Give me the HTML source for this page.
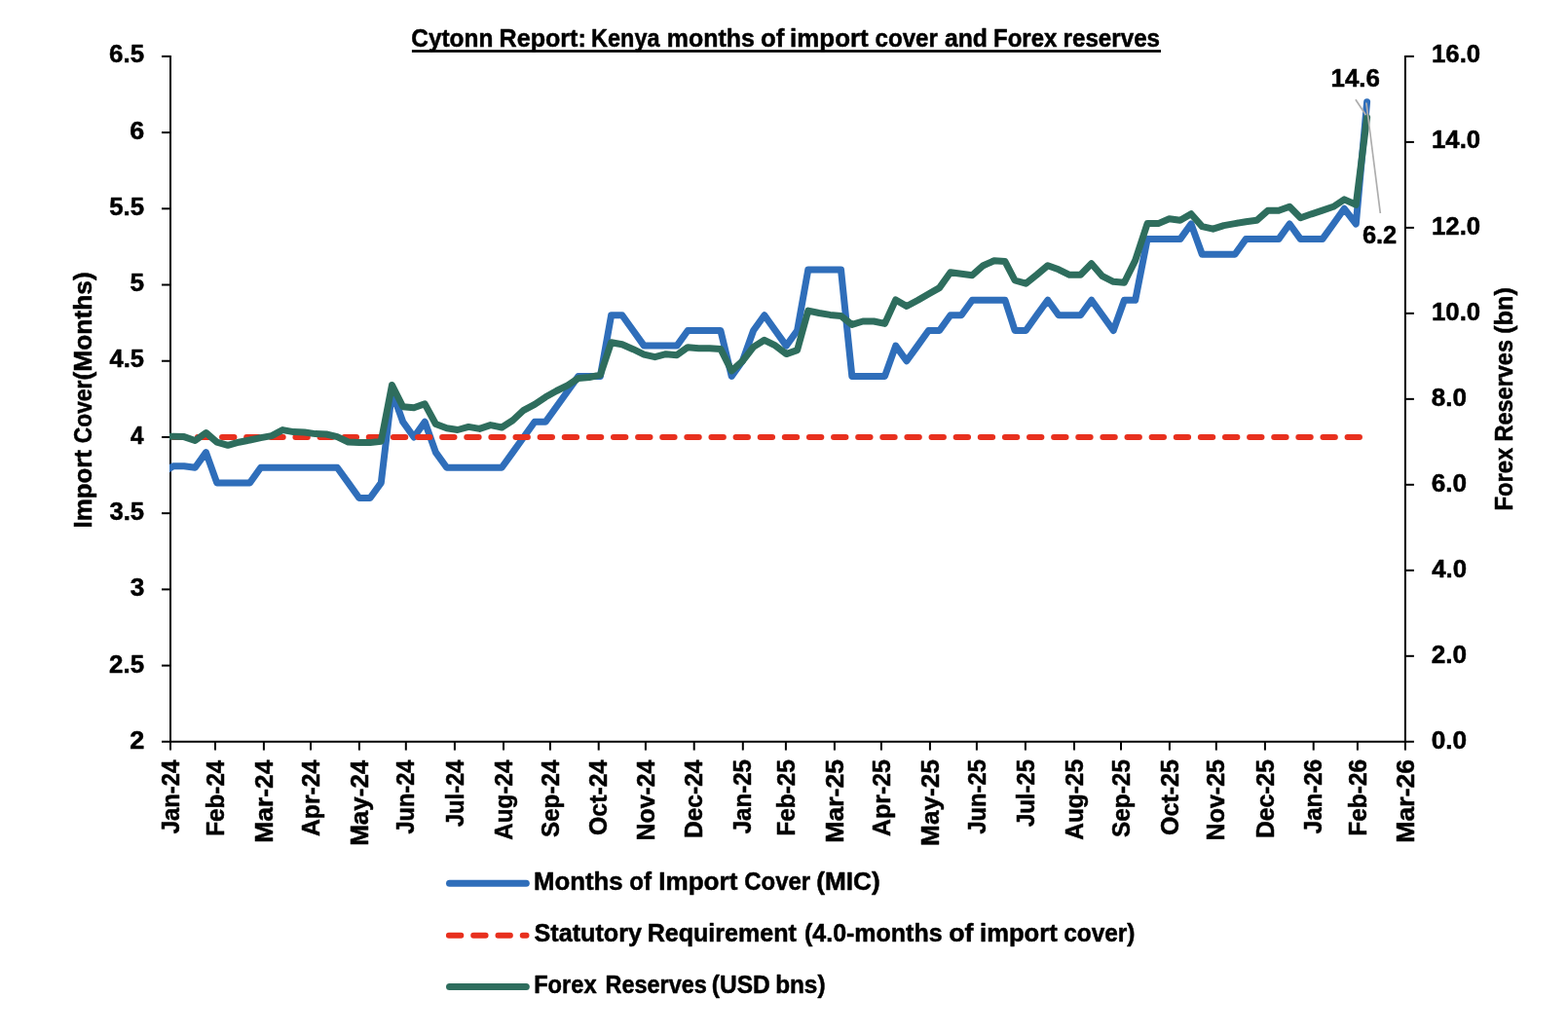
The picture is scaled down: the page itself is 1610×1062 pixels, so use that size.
<!DOCTYPE html>
<html><head><meta charset="utf-8"><title>Cytonn Report: Kenya months of import cover and Forex reserves</title>
<style>
html,body{margin:0;padding:0;background:#fff;}
svg{display:block;}
text{font-family:"Liberation Sans",sans-serif;font-weight:bold;font-size:25px;fill:#000;stroke:#000;stroke-width:0.5px;stroke-linejoin:round;}
</style></head><body>
<svg width="1610" height="1062" viewBox="0 0 1610 1062">
<rect width="1610" height="1062" fill="#fff"/>
<text y="47.80"><tspan x="422.32" textLength="84.03" lengthAdjust="spacingAndGlyphs">Cytonn</tspan> <tspan x="512.59" textLength="89.19" lengthAdjust="spacingAndGlyphs">Report:</tspan> <tspan x="607.11" textLength="70.34" lengthAdjust="spacingAndGlyphs">Kenya</tspan> <tspan x="684.81" textLength="89.96" lengthAdjust="spacingAndGlyphs">months</tspan> <tspan x="781.07" textLength="24.32" lengthAdjust="spacingAndGlyphs">of</tspan> <tspan x="811.14" textLength="80.54" lengthAdjust="spacingAndGlyphs">import</tspan> <tspan x="898.54" textLength="64.36" lengthAdjust="spacingAndGlyphs">cover</tspan> <tspan x="969.91" textLength="43.92" lengthAdjust="spacingAndGlyphs">and</tspan> <tspan x="1020.07" textLength="65.30" lengthAdjust="spacingAndGlyphs">Forex</tspan> <tspan x="1091.56" textLength="99.49" lengthAdjust="spacingAndGlyphs">reserves</tspan></text>
<rect x="422.9" y="51.15" width="769.1" height="2.7" fill="#000"/>
<g stroke="#000" stroke-width="2" fill="none">
<path d="M175.0,56.9 V762.8"/><path d="M1442.9,56.9 V762.8"/><path d="M166.0,761.8 H1451.9"/>
<path d="M166.0,57.90 H175.0"/>
<path d="M166.0,136.11 H175.0"/>
<path d="M166.0,214.32 H175.0"/>
<path d="M166.0,292.53 H175.0"/>
<path d="M166.0,370.74 H175.0"/>
<path d="M166.0,448.96 H175.0"/>
<path d="M166.0,527.17 H175.0"/>
<path d="M166.0,605.38 H175.0"/>
<path d="M166.0,683.59 H175.0"/>
<path d="M1442.9,57.90 H1451.9"/>
<path d="M1442.9,145.89 H1451.9"/>
<path d="M1442.9,233.88 H1451.9"/>
<path d="M1442.9,321.86 H1451.9"/>
<path d="M1442.9,409.85 H1451.9"/>
<path d="M1442.9,497.84 H1451.9"/>
<path d="M1442.9,585.82 H1451.9"/>
<path d="M1442.9,673.81 H1451.9"/>
<path d="M175,761.8 V770.5999999999999"/>
<path d="M221.0,761.8 V770.5999999999999"/>
<path d="M270.9,761.8 V770.5999999999999"/>
<path d="M319.0,761.8 V770.5999999999999"/>
<path d="M368.9,761.8 V770.5999999999999"/>
<path d="M416.8,761.8 V770.5999999999999"/>
<path d="M466.9,761.8 V770.5999999999999"/>
<path d="M517.0,761.8 V770.5999999999999"/>
<path d="M564.9,761.8 V770.5999999999999"/>
<path d="M614.7,761.8 V770.5999999999999"/>
<path d="M662.9,761.8 V770.5999999999999"/>
<path d="M712.7,761.8 V770.5999999999999"/>
<path d="M762.8,761.8 V770.5999999999999"/>
<path d="M806.9,761.8 V770.5999999999999"/>
<path d="M856.9,761.8 V770.5999999999999"/>
<path d="M904.9,761.8 V770.5999999999999"/>
<path d="M954.9,761.8 V770.5999999999999"/>
<path d="M1002.9,761.8 V770.5999999999999"/>
<path d="M1052.9,761.8 V770.5999999999999"/>
<path d="M1103.0,761.8 V770.5999999999999"/>
<path d="M1151.0,761.8 V770.5999999999999"/>
<path d="M1200.9,761.8 V770.5999999999999"/>
<path d="M1248.8,761.8 V770.5999999999999"/>
<path d="M1298.9,761.8 V770.5999999999999"/>
<path d="M1348.7,761.8 V770.5999999999999"/>
<path d="M1393.9,761.8 V770.5999999999999"/>
<path d="M1442.9,761.8 V770.5999999999999"/>
</g>
<text transform="translate(112.07,64.20) scale(1.0363,1)">6.5</text>
<text transform="translate(133.33,142.52) scale(1.0744,1)">6</text>
<text transform="translate(112.17,220.84) scale(1.0331,1)">5.5</text>
<text transform="translate(133.46,299.16) scale(1.0484,1)">5</text>
<text transform="translate(112.59,377.48) scale(1.0208,1)">4.5</text>
<text transform="translate(133.91,455.81) scale(0.9701,1)">4</text>
<text transform="translate(112.38,534.13) scale(1.0269,1)">3.5</text>
<text transform="translate(133.67,612.45) scale(1.0484,1)">3</text>
<text transform="translate(112.07,690.77) scale(1.0363,1)">2.5</text>
<text transform="translate(133.33,769.09) scale(1.0833,1)">2</text>
<text transform="translate(1470.05,64.40) scale(1.0282,1)">16.0</text>
<text transform="translate(1470.05,152.47) scale(1.0282,1)">14.0</text>
<text transform="translate(1470.05,240.53) scale(1.0282,1)">12.0</text>
<text transform="translate(1470.05,328.60) scale(1.0282,1)">10.0</text>
<text transform="translate(1469.87,416.67) scale(1.0426,1)">8.0</text>
<text transform="translate(1469.76,504.74) scale(1.0457,1)">6.0</text>
<text transform="translate(1470.29,592.80) scale(1.0300,1)">4.0</text>
<text transform="translate(1469.76,680.87) scale(1.0457,1)">2.0</text>
<text transform="translate(1469.65,768.94) scale(1.0489,1)">0.0</text>
<text transform="translate(183.60,856.28) rotate(-90) scale(0.9555,1)">Jan-24</text>
<text transform="translate(229.60,858.75) rotate(-90) scale(0.9695,1)">Feb-24</text>
<text transform="translate(279.50,865.69) rotate(-90) scale(1.0558,1)">Mar-24</text>
<text transform="translate(327.60,858.99) rotate(-90) scale(0.9898,1)">Apr-24</text>
<text transform="translate(377.50,868.87) rotate(-90) scale(1.0410,1)">May-24</text>
<text transform="translate(425.40,856.58) rotate(-90) scale(0.9426,1)">Jun-24</text>
<text transform="translate(475.50,849.08) rotate(-90) scale(0.9484,1)">Jul-24</text>
<text transform="translate(525.60,862.68) rotate(-90) scale(0.9690,1)">Aug-24</text>
<text transform="translate(573.50,859.98) rotate(-90) scale(0.9680,1)">Sep-24</text>
<text transform="translate(623.30,857.99) rotate(-90) scale(0.9948,1)">Oct-24</text>
<text transform="translate(671.50,863.39) rotate(-90) scale(0.9926,1)">Nov-24</text>
<text transform="translate(721.30,860.97) rotate(-90) scale(0.9800,1)">Dec-24</text>
<text transform="translate(771.40,856.29) rotate(-90) scale(0.9629,1)">Jan-25</text>
<text transform="translate(815.50,858.76) rotate(-90) scale(0.9770,1)">Feb-25</text>
<text transform="translate(865.50,865.71) rotate(-90) scale(1.0639,1)">Mar-25</text>
<text transform="translate(913.50,859.00) rotate(-90) scale(0.9974,1)">Apr-25</text>
<text transform="translate(963.50,868.88) rotate(-90) scale(1.0485,1)">May-25</text>
<text transform="translate(1011.50,856.58) rotate(-90) scale(0.9497,1)">Jun-25</text>
<text transform="translate(1061.50,849.08) rotate(-90) scale(0.9564,1)">Jul-25</text>
<text transform="translate(1111.60,862.69) rotate(-90) scale(0.9760,1)">Aug-25</text>
<text transform="translate(1159.60,859.98) rotate(-90) scale(0.9752,1)">Sep-25</text>
<text transform="translate(1209.50,858.00) rotate(-90) scale(1.0026,1)">Oct-25</text>
<text transform="translate(1257.40,863.40) rotate(-90) scale(1.0000,1)">Nov-25</text>
<text transform="translate(1307.50,860.98) rotate(-90) scale(0.9874,1)">Dec-25</text>
<text transform="translate(1357.30,856.29) rotate(-90) scale(0.9653,1)">Jan-26</text>
<text transform="translate(1402.50,858.77) rotate(-90) scale(0.9795,1)">Feb-26</text>
<text transform="translate(1451.50,865.71) rotate(-90) scale(1.0667,1)">Mar-26</text>
<text transform="translate(94.40,0) rotate(-90)"><tspan x="-542.46" textLength="80.44" lengthAdjust="spacingAndGlyphs">Import</tspan> <tspan x="-455.31" textLength="64.73" lengthAdjust="spacingAndGlyphs">Cover</tspan><tspan x="-390.57" textLength="111.35" lengthAdjust="spacingAndGlyphs">(Months)</tspan></text>
<text transform="translate(1552.50,0) rotate(-90)"><tspan x="-524.62" textLength="64.79" lengthAdjust="spacingAndGlyphs">Forex</tspan> <tspan x="-453.60" textLength="104.64" lengthAdjust="spacingAndGlyphs">Reserves</tspan> <tspan x="-342.81" textLength="47.72" lengthAdjust="spacingAndGlyphs">(bn)</tspan></text>
<clipPath id="plot"><rect x="174" y="40" width="1290" height="740"/></clipPath><g clip-path="url(#plot)">
<polyline points="167.0,485.7 177.8,478.7 189.0,478.7 200.3,480.2 211.5,464.6 222.7,495.9 234.0,495.9 245.2,495.9 256.5,495.9 267.7,480.2 278.9,480.2 290.2,480.2 301.4,480.2 312.6,480.2 323.9,480.2 335.1,480.2 346.3,480.2 357.6,495.9 368.8,511.5 380.0,511.5 391.3,495.9 402.5,402.0 413.7,433.3 425.0,449.0 436.2,433.3 447.4,464.6 458.7,480.2 469.9,480.2 481.1,480.2 492.4,480.2 503.6,480.2 515.2,480.2 526.5,464.6 537.7,449.0 549.0,433.3 560.2,433.3 571.4,417.7 582.7,402.0 593.9,386.4 605.1,386.4 616.4,386.4 627.6,323.8 638.8,323.8 650.1,339.5 661.3,355.1 672.5,355.1 683.8,355.1 695.0,355.1 706.2,339.5 717.5,339.5 728.7,339.5 739.9,339.5 751.2,386.4 762.4,370.7 773.6,339.5 784.9,323.8 796.1,339.5 807.3,355.1 818.6,339.5 829.8,276.9 841.0,276.9 852.3,276.9 863.5,276.9 874.8,386.4 886.0,386.4 897.2,386.4 908.5,386.4 919.7,355.1 930.9,370.7 942.2,355.1 953.4,339.5 964.6,339.5 975.9,323.8 987.1,323.8 998.3,308.2 1009.6,308.2 1020.8,308.2 1032.0,308.2 1042.1,339.5 1053.3,339.5 1064.5,323.8 1075.8,308.2 1087.0,323.8 1098.2,323.8 1109.5,323.8 1120.7,308.2 1131.9,323.8 1143.2,339.5 1154.4,308.2 1165.7,308.2 1178.1,245.6 1189.3,245.6 1200.6,245.6 1211.8,245.6 1223.0,230.0 1234.3,261.2 1245.5,261.2 1256.7,261.2 1268.0,261.2 1279.2,245.6 1290.4,245.6 1301.7,245.6 1312.9,245.6 1324.1,230.0 1335.4,245.6 1346.6,245.6 1357.8,245.6 1369.1,230.0 1380.3,214.3 1392.3,230.0 1403.6,104.8" fill="none" stroke="#2F6EBA" stroke-width="7" stroke-linejoin="round" stroke-linecap="round"/>
<path d="M177.8,449.0 H1403.6" fill="none" stroke="#E8301E" stroke-width="6" stroke-linecap="round" stroke-dasharray="12.4 12.72"/>
<polyline points="167.0,448.2 177.8,448.2 189.0,448.6 200.3,452.5 211.5,444.5 222.7,454.2 234.0,457.3 245.2,454.2 256.5,452.0 267.7,449.6 278.9,447.6 290.2,441.6 301.4,443.6 312.6,444.0 323.9,445.6 335.1,446.0 346.3,448.6 357.6,454.0 368.8,454.6 380.0,454.6 391.3,453.2 402.5,395.5 413.7,417.8 425.0,418.8 436.2,414.8 447.4,435.5 458.7,439.8 469.9,441.5 481.1,438.4 492.4,440.4 503.6,436.6 515.2,439.0 526.5,431.7 537.7,421.3 549.0,415.4 560.2,407.8 571.4,401.5 582.7,395.9 593.9,388.5 605.1,387.5 616.4,385.1 627.6,351.7 638.8,353.7 650.1,358.7 661.3,364.1 672.5,366.7 683.8,363.7 695.0,364.7 706.2,356.7 717.5,357.7 728.7,357.7 739.9,358.5 751.2,380.9 762.4,370.9 773.6,356.4 784.9,349.3 796.1,354.9 807.3,363.6 818.6,359.6 829.8,319.1 841.0,321.5 852.3,323.4 863.5,324.4 874.8,333.4 886.0,330.0 897.2,330.0 908.5,332.4 919.7,307.9 930.9,314.5 942.2,308.5 953.4,302.0 964.6,295.6 975.9,279.7 987.1,281.3 998.3,282.7 1009.6,272.7 1020.8,267.8 1032.0,268.6 1042.1,288.0 1053.3,291.2 1064.5,282.3 1075.8,272.8 1087.0,276.8 1098.2,282.3 1109.5,282.3 1120.7,270.8 1131.9,283.7 1143.2,289.3 1154.4,290.3 1165.7,267.4 1178.1,229.6 1189.3,229.6 1200.6,224.7 1211.8,226.3 1223.0,219.7 1234.3,232.6 1245.5,235.2 1256.7,231.6 1268.0,229.6 1279.2,227.7 1290.4,226.3 1301.7,216.3 1312.9,216.3 1324.1,212.2 1335.4,223.7 1346.6,219.8 1357.8,216.2 1369.1,212.3 1380.3,204.9 1392.3,210.3 1403.6,120.6" fill="none" stroke="#2E6D5D" stroke-width="7" stroke-linejoin="round" stroke-linecap="round"/>
</g>
<path d="M1391.9,102.2 L1402.5,118.3 M1402.9,105.5 L1417.3,219.0" stroke="#ADADAD" stroke-width="1.7" fill="none"/>
<text transform="translate(1366.54,89.20) scale(1.0346,1)">14.6</text>
<text transform="translate(1398.88,249.80) scale(1.0183,1)">6.2</text>
<path d="M461.5,907.3 H540.3" stroke="#2F6EBA" stroke-width="7" stroke-linecap="round"/>
<path d="M460.9,960.7 H540.5" stroke="#E8301E" stroke-width="6" stroke-linecap="round" stroke-dasharray="12.4 12.88"/>
<path d="M461.5,1013.5 H540.3" stroke="#2E6D5D" stroke-width="7" stroke-linecap="round"/>
<text y="913.80"><tspan x="548.05" textLength="91.65" lengthAdjust="spacingAndGlyphs">Months</tspan> <tspan x="646.34" textLength="22.66" lengthAdjust="spacingAndGlyphs">of</tspan> <tspan x="676.23" textLength="81.16" lengthAdjust="spacingAndGlyphs">Import</tspan> <tspan x="764.34" textLength="67.80" lengthAdjust="spacingAndGlyphs">Cover</tspan> <tspan x="838.24" textLength="65.39" lengthAdjust="spacingAndGlyphs">(MIC)</tspan></text>
<text y="966.80"><tspan x="548.60" textLength="110.43" lengthAdjust="spacingAndGlyphs">Statutory</tspan> <tspan x="664.70" textLength="153.21" lengthAdjust="spacingAndGlyphs">Requirement</tspan> <tspan x="826.00" textLength="141.57" lengthAdjust="spacingAndGlyphs">(4.0-months</tspan> <tspan x="974.23" textLength="25.26" lengthAdjust="spacingAndGlyphs">of</tspan> <tspan x="1006.06" textLength="79.72" lengthAdjust="spacingAndGlyphs">import</tspan> <tspan x="1092.22" textLength="73.28" lengthAdjust="spacingAndGlyphs">cover)</tspan></text>
<text y="1019.50"><tspan x="548.19" textLength="64.37" lengthAdjust="spacingAndGlyphs">Forex</tspan> <tspan x="621.51" textLength="104.23" lengthAdjust="spacingAndGlyphs">Reserves</tspan> <tspan x="730.82" textLength="59.86" lengthAdjust="spacingAndGlyphs">(USD</tspan> <tspan x="796.14" textLength="51.39" lengthAdjust="spacingAndGlyphs">bns)</tspan></text>
</svg>
</body></html>
